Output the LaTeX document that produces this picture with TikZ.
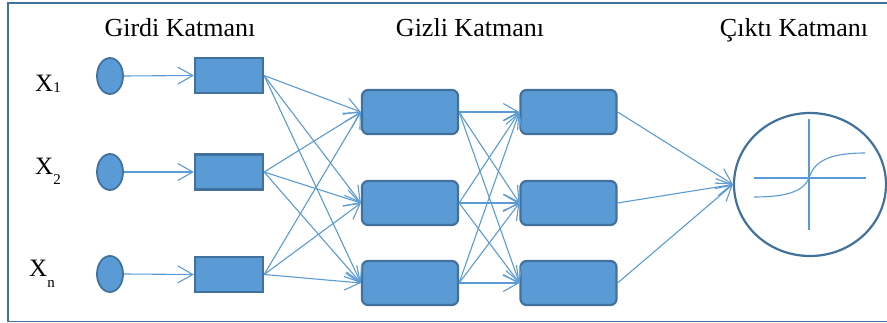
\documentclass[tikz,border=0pt]{standalone}
\usepackage{fontspec}
\setmainfont{Liberation Serif}
\usetikzlibrary{arrows.meta,shapes.geometric}
\definecolor{nfill}{HTML}{5B9BD5}
\definecolor{nborder}{HTML}{41719C}
\definecolor{lnk}{HTML}{5B9BD5}
\tikzset{
  inp/.style={ellipse,draw=nborder,fill=nfill,line width=1.8pt,minimum width=26pt,minimum height=36pt,inner sep=0pt},
  inrect/.style={rectangle,draw=nborder,fill=nfill,line width=2.2pt,minimum width=68pt,minimum height=35pt,inner sep=0pt},
  hid/.style={rectangle,rounded corners=6pt,draw=nborder,fill=nfill,line width=2.2pt,minimum width=96pt,minimum height=44pt,inner sep=0pt},
  outc/.style={ellipse,draw=nborder,fill=white,line width=2.2pt,minimum width=152pt,minimum height=143pt,inner sep=0pt},
  conn/.style={draw=lnk,line width=1.1pt,-{Straight Barb[length=15pt,width=17pt,line width=1.1pt]}},
  ttl/.style={font=\fontsize{26}{30}\selectfont,anchor=base,inner sep=0pt},
  xl/.style={font=\fontsize{25}{28}\selectfont,anchor=base west,inner sep=0pt},
  frame/.style={draw=nborder,line width=1.4pt},
  ax/.style={draw=lnk,line width=1.1pt}
}
\newcommand{\subn}[2]{\raisebox{-#1pt}{\fontsize{15}{16}\selectfont #2}}
\begin{document}
\begin{tikzpicture}[x=1pt,y=-1pt]
\useasboundingbox (0,0) rectangle (887,323);
\draw[frame] (900,3) -- (8,3) -- (8,321.5) -- (900,321.5);
% titles
\node[ttl] (t1) at (180,37) {Girdi Katmanı};
\node[ttl] (t2) at (470,37) {Gizli Katmanı};
\node[ttl] (t3) at (794,37) {Çıktı Katmanı};
% X labels
\node[xl] (x1) at (35,92) {X\subn{1}{1}};
\node[xl] (x2) at (35,175) {X\subn{10}{2}};
\node[xl] (xn) at (29,277) {X\subn{11}{n}};
% input ellipses
\node[inp] (e1) at (110,76) {};
\node[inp] (e2) at (110,172) {};
\node[inp] (e3) at (110,274) {};
% input rects
\node[inrect] (i1) at (229,75.5) {};
\node[inrect] (i2) at (229,172) {};
\node[inrect] (i3) at (229,274.5) {};
% hidden layers
\node[hid] (a1) at (410,112) {};
\node[hid] (a2) at (410,203) {};
\node[hid] (a3) at (410,283) {};
\node[hid] (b1) at (568.5,112) {};
\node[hid] (b2) at (568.5,203) {};
\node[hid] (b3) at (568.5,283) {};
% output
\node[outc] (o) at (810,184.5) {};
% connectors
\foreach \k in {1,2,3} \draw[conn] (e\k.east) -- (i\k.west);
\foreach \s in {1,2,3} \foreach \t in {1,2,3} \draw[conn] (i\s.east) -- (a\t.west);
\foreach \s in {1,2,3} \foreach \t in {1,2,3} \draw[conn] (a\s.east) -- (b\t.west);
\foreach \s in {1,2,3} \draw[conn] (b\s.east) -- (o.west);
% activation plot
\draw[ax] (754,178) -- (866,178);
\draw[ax] (809,119) -- (809,230);
\draw[ax] (754,197) .. controls (790,197) and (804,190) .. (809,178) .. controls (814,162) and (828,153) .. (865,153);
\end{tikzpicture}
\end{document}
